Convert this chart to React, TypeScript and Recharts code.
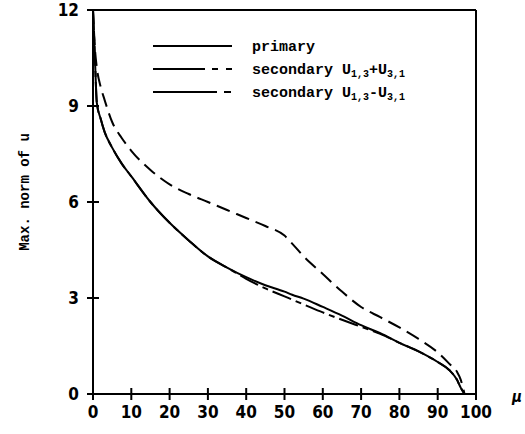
import { LineChart, Line, XAxis, YAxis, ReferenceLine } from "recharts";

const pValues = [0, 0.5, 1, 2, 3, 5, 7.5, 10, 15, 20, 25, 30, 35, 40, 45, 50, 52, 55, 60, 65, 70, 75, 80, 85, 90, 93, 95, 96, 97];
const primary = [12, 10.5, 9.1, 8.6, 8.2, 7.7, 7.2, 6.8, 6.0, 5.35, 4.8, 4.3, 3.95, 3.65, 3.4, 3.2, 3.1, 2.98, 2.72, 2.45, 2.15, 1.9, 1.6, 1.33, 1.0, 0.75, 0.45, 0.2, 0];
const secPlus = [12, 10.8, 10.2, 9.6, 9.2, 8.5, 8.0, 7.6, 7.0, 6.55, 6.25, 6.0, 5.75, 5.5, 5.25, 4.95, 4.7, 4.3, 3.75, 3.2, 2.72, 2.4, 2.08, 1.72, 1.3, 0.95, 0.7, 0.45, 0];
const secMinus = [12, 10.5, 9.1, 8.6, 8.2, 7.7, 7.2, 6.8, 6.0, 5.35, 4.8, 4.3, 3.95, 3.6, 3.3, 3.05, 2.95, 2.8, 2.55, 2.32, 2.1, 1.88, 1.6, 1.33, 1.0, 0.75, 0.45, 0.2, 0];

const xTicks = [0, 10, 20, 30, 40, 50, 60, 70, 80, 90, 100];
const yTicks = [0, 3, 6, 9, 12];

const data = pValues.map((p, i) => ({ p, primary: primary[i], secPlus: secPlus[i], secMinus: secMinus[i] }));

const numFont = "'Liberation Sans Narrow', 'DejaVu Sans Condensed', 'Roboto Condensed', sans-serif";
const monoFont = "'Liberation Mono', 'DejaVu Sans Mono', monospace";

const YTick = ({ x, y, payload }: any) => (
  <g>
    <line x1={x - 6} x2={x + 6} y1={y} y2={y} stroke="#000" strokeWidth={2} />
    <text x={x - 14} y={y} dy={6} textAnchor="end" fontFamily={numFont} fontWeight="bold" fontSize={17} fill="#000">
      {payload.value}
    </text>
  </g>
);

const XTick = ({ x, y, payload }: any) => (
  <g>
    <line x1={x} x2={x} y1={y - 6} y2={y + 6} stroke="#000" strokeWidth={2} />
    <text x={x} y={y + 24} textAnchor="middle" fontFamily={numFont} fontWeight="bold" fontSize={17} fill="#000">
      {payload.value}
    </text>
  </g>
);

const legendRows = [
  { label: "primary", dash: undefined, sub: null },
  { label: "secondary", dash: "52 7 6 8 6 20", sub: "+" },
  { label: "secondary", dash: "64 7 7 20", sub: "-" },
];

const LegendBox = () => (
  <svg width={320} height={70} style={{ display: "block" }}>
    {legendRows.map((r, i) => (
      <g key={i}>
        <line x1={3} x2={82} y1={12 + i * 23} y2={12 + i * 23} stroke="#000" strokeWidth={2} strokeDasharray={r.dash} />
        <text x={102} y={12 + i * 23} dy={5} fontFamily={monoFont} fontWeight="bold" fontSize={15} fill="#000">
          {r.label}
          {r.sub && (
            <>
              <tspan> U</tspan>
              <tspan fontSize={10} dy={3}>1,3</tspan>
              <tspan dy={-3}>{r.sub}U</tspan>
              <tspan fontSize={10} dy={3}>3,1</tspan>
            </>
          )}
        </text>
      </g>
    ))}
  </svg>
);

export default function App() {
  return (
    <div style={{ position: "absolute", left: 0, top: 0, width: 525, height: 434, background: "#fff" }}>
      <LineChart width={525} height={434} data={data} margin={{ top: 10, right: 49, bottom: 0, left: 0 }}>
        <XAxis
          dataKey="p"
          type="number"
          domain={[0, 100]}
          ticks={xTicks}
          height={40}
          tickSize={0}
          tickMargin={0}
          tickLine={false}
          tick={<XTick />}
          axisLine={{ stroke: "#000", strokeWidth: 2 }}
          label={{
            content: () => (
              <text x={512} y={402} fontFamily={numFont} fontStyle="italic" fontWeight="bold" fontSize={15} fill="#000">
                μ
              </text>
            ),
          }}
        />
        <YAxis
          type="number"
          domain={[0, 12]}
          ticks={yTicks}
          width={93}
          tickSize={0}
          tickMargin={0}
          tickLine={false}
          tick={<YTick />}
          axisLine={{ stroke: "#000", strokeWidth: 2 }}
          label={{
            content: () => (
              <text
                x={24}
                y={192}
                transform="rotate(-90 24 192)"
                textAnchor="middle"
                dy={5}
                fontFamily={monoFont}
                fontWeight="bold"
                fontSize={14}
                fill="#000"
              >
                Max. norm of u
              </text>
            ),
          }}
        />
        <ReferenceLine y={12} stroke="#000" strokeWidth={2} />
        <ReferenceLine x={100} stroke="#000" strokeWidth={2} />
        <Line type="monotone" dataKey="primary" name="primary" stroke="#000" strokeWidth={2} dot={false} isAnimationActive={false} />
        <Line type="monotone" dataKey="secPlus" name="secondary +" stroke="#000" strokeWidth={2} strokeDasharray="14 7" dot={false} isAnimationActive={false} />
        <Line type="monotone" dataKey="secMinus" name="secondary -" stroke="#000" strokeWidth={2} strokeDasharray="20 5 6 5" dot={false} isAnimationActive={false} />
      </LineChart>
      <div style={{ position: "absolute", left: 150, top: 34 }}>
        <LegendBox />
      </div>
    </div>
  );
}
